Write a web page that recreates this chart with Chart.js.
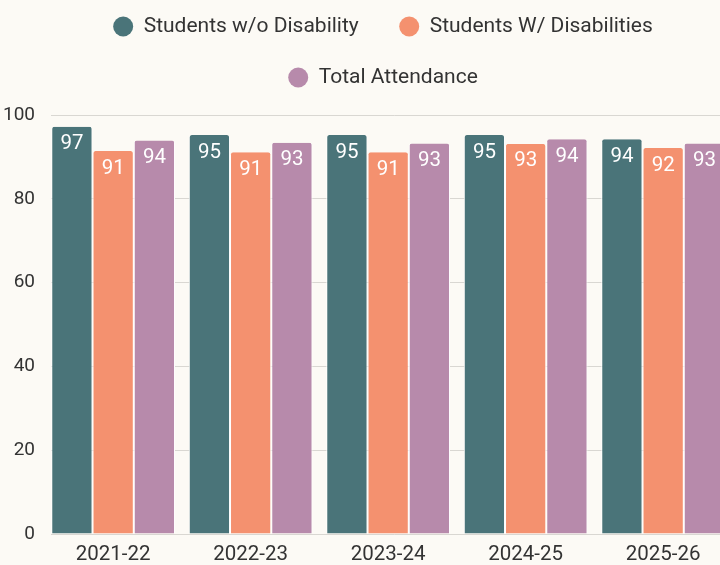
<!DOCTYPE html>
<html><head><meta charset="utf-8">
<script src="https://cdn.jsdelivr.net/npm/chart.js@4.4.1/dist/chart.umd.min.js"></script>
<style>
html,body{margin:0;padding:0;background:#fcfaf5;overflow:hidden;width:720px;height:565px}
#wrap{position:absolute;left:0;top:0;width:766px;height:565px}
</style></head>
<body><div id="wrap"><canvas id="c" width="766" height="565"></canvas></div>
<script>
const categories = ['2021-22', '2022-23', '2023-24', '2024-25', '2025-26'];
const seriesNames = ['Students w/o Disability', 'Students W/ Disabilities', 'Total Attendance'];
const withoutDisability = [97.2, 95.2, 95.2, 95.2, 94.2];
const withDisabilities = [91.4, 91.1, 91.1, 93.1, 92.1];
const totalAttendance = [93.9, 93.4, 93.2, 94.2, 93.2];
const yMin = 0, yMax = 100, yStep = 20;

const colors = ['#4a7479', '#f4916f', '#b78aab'];
const BG = '#fcfaf5';
const TEXT = '#333333';

const bgPlugin = {
  id: 'bg',
  beforeDraw(chart) {
    const ctx = chart.ctx;
    ctx.save(); ctx.fillStyle = BG; ctx.fillRect(0, 0, chart.width, chart.height); ctx.restore();
  }
};
const legendPatch = {
  id: 'legendPatch',
  beforeUpdate(chart) {
    const lg = chart.legend;
    if (lg && !lg._patched) {
      const f = lg.fit;
      lg.fit = function () { f.call(this); this.height = 129; };
      lg._patched = true;
    }
  }
};
const valueLabels = {
  id: 'valueLabels',
  afterDatasetsDraw(chart) {
    const ctx = chart.ctx;
    ctx.save();
    ctx.font = '20.5px Roboto';
    ctx.fillStyle = '#ffffff';
    ctx.textAlign = 'center';
    ctx.textBaseline = 'alphabetic';
    chart.data.datasets.forEach((ds, i) => {
      chart.getDatasetMeta(i).data.forEach((bar, j) => {
        ctx.fillText(String(Math.round(ds.data[j])), bar.x, bar.y + 22.5);
      });
    });
    ctx.restore();
  }
};

const seriesData = [withoutDisability, withDisabilities, totalAttendance];
const datasets = seriesNames.map((name, i) => ({
  label: name,
  data: seriesData[i],
  backgroundColor: colors[i],
  borderColor: '#ffffff',
  borderWidth: {top: 0, left: 1, right: 1, bottom: 0},
  borderSkipped: 'start',
  borderRadius: {topLeft: 3, topRight: 3, bottomLeft: 0, bottomRight: 0},
  barPercentage: 1,
  categoryPercentage: 0.9
}));

new Chart(document.getElementById('c'), {
  type: 'bar',
  data: { labels: categories, datasets },
  plugins: [bgPlugin, legendPatch, valueLabels],
  options: {
    responsive: false,
    animation: false,
    devicePixelRatio: 1,
    layout: { padding: { top: -14, left: 0, right: 0, bottom: 0 } },
    plugins: {
      tooltip: { enabled: false },
      legend: {
        position: 'top',
        labels: {
          font: { family: 'Roboto', size: 21 },
          color: TEXT,
          usePointStyle: true,
          pointStyle: 'circle',
          pointStyleWidth: 20,
          boxHeight: 14.14,
          padding: 30,
          generateLabels(chart) {
            const items = Chart.defaults.plugins.legend.labels.generateLabels(chart);
            items.forEach((it, i) => {
              it.lineWidth = 0;
              it.strokeStyle = it.fillStyle;
              if (i === 0) it.text = it.text + '  ';
            });
            return items;
          }
        }
      }
    },
    scales: {
      x: {
        grid: { display: false },
        border: { display: false },
        ticks: { font: { family: 'Roboto', size: 20.5 }, color: TEXT, padding: 1, maxRotation: 0 },
        afterFit(scale) { scale.height = 31; },
        afterUpdate(scale) { scale._startValue = -0.452; }
      },
      y: {
        min: yMin, max: yMax,
        grid: { color: '#d9d7d2', drawTicks: false, lineWidth: 1 },
        border: { display: false },
        ticks: { stepSize: yStep, font: { family: 'Roboto', size: 19 }, color: TEXT, padding: 16 },
        afterFit(scale) { scale.width = 51; }
      },
      y2: {
        position: 'right',
        display: true,
        grid: { display: false },
        border: { display: false },
        ticks: { display: false },
        afterFit(scale) { scale.width = 27.5; }
      }
    }
  }
});
</script>
</body></html>
